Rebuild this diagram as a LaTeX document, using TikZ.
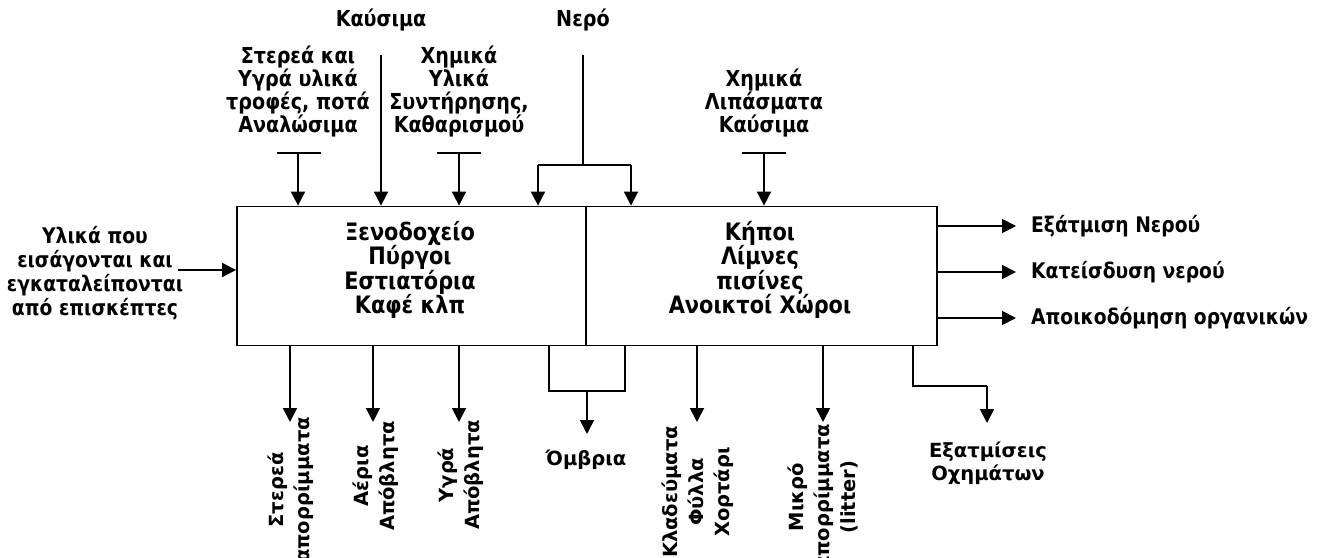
\documentclass[tikz,border=0pt]{standalone}
\usepackage{fontspec}
\setmainfont{DejaVu Sans}
\newfontfamily\tfont[FakeStretch=0.87]{DejaVu Sans}
\newfontfamily\vfont{DejaVu Sans}
\usetikzlibrary{arrows.meta}
\begin{document}
\begin{tikzpicture}[x=1pt,y=-1pt,
  lbl/.style={font=\tfont\bfseries\fontsize{22}{23}\selectfont, align=center, inner sep=0pt},
  rlbl/.style={font=\tfont\bfseries\fontsize{21.5}{23}\selectfont, anchor=west, inner sep=0pt},
  boxtxt/.style={font=\tfont\bfseries\fontsize{24}{24.5}\selectfont, align=center, inner sep=0pt},
  vlbl/.style={font=\vfont\bfseries\fontsize{19.5}{26}\selectfont, align=center, inner sep=0pt},
  blk/.style={draw, line width=1.8pt, inner sep=0pt},
  ar/.style={-{Triangle[length=14pt,width=14pt]}, line width=1.8pt},
  ln/.style={line width=1.8pt}]
\useasboundingbox (0,0) rectangle (1317,557);
% boxes
\node[blk, minimum width=349pt, minimum height=139pt] (lbox) at (411.5,276) {};
\node[blk, minimum width=351pt, minimum height=139pt] (rbox) at (761.5,276) {};
\node[boxtxt] (ltxt) at (410,270) {Ξενοδοχείο\\Πύργοι\\Εστιατόρια\\Καφέ κλπ};
\node[boxtxt] (rtxt) at (760,270) {Κήποι\\Λίμνες\\πισίνες\\Ανοικτοί Χώροι};
% top inputs
\node[lbl] (in1) at (298,91) {Στερεά και\\Υγρά υλικά\\τροφές, ποτά\\Αναλώσιμα};
\coordinate (t1) at (298,153);
\draw[ln] (277,153) -- (321,153);
\draw[ar] (t1) -- (t1 |- lbox.north);
\node[lbl] (in2) at (381,20) {Καύσιμα};
\coordinate (t2) at (381,55);
\draw[ar] (t2) -- (t2 |- lbox.north);
\node[lbl] (in3) at (459,91) {Χημικά\\Υλικά\\Συντήρησης,\\Καθαρισμού};
\coordinate (t3) at (459,153);
\draw[ln] (437,153) -- (481,153);
\draw[ar] (t3) -- (t3 |- lbox.north);
\node[lbl] (in4) at (583,20) {Νερό};
\coordinate (t4) at (583,55);
\coordinate (t4a) at (538,165);
\coordinate (t4b) at (631,165);
\draw[ln] (t4) -- (t4 |- t4a);
\draw[ln] (t4a) -- (t4b);
\draw[ar] (t4a) -- (t4a |- lbox.north);
\draw[ar] (t4b) -- (t4b |- rbox.north);
\node[lbl] (in5) at (764,103) {Χημικά\\Λιπάσματα\\Καύσιμα};
\coordinate (t5) at (764,153);
\draw[ln] (742,153) -- (786,153);
\draw[ar] (t5) -- (t5 |- rbox.north);
% left input
\node[lbl, font=\tfont\bfseries\fontsize{21.5}{24}\selectfont] (in6) at (95,273) {Υλικά που\\εισάγονται και\\εγκαταλείπονται\\από επισκέπτες};
\coordinate (t6) at (178,270);
\draw[ar] (t6) -- (t6 -| lbox.west);
% right outputs
\coordinate (r1) at (1016,226);
\coordinate (r2) at (1016,272);
\coordinate (r3) at (1016,318);
\draw[ar] (r1 -| rbox.east) -- (r1);
\draw[ar] (r2 -| rbox.east) -- (r2);
\draw[ar] (r3 -| rbox.east) -- (r3);
\node[rlbl] (o1) at (1031,226) {Εξάτμιση Νερού};
\node[rlbl] (o2) at (1031,272) {Κατείσδυση νερού};
\node[rlbl] (o3) at (1031,318) {Αποικοδόμηση οργανικών};
% bottom outputs
\coordinate (b1) at (290,422);
\coordinate (b2) at (373,422);
\coordinate (b3) at (459,422);
\draw[ar] (b1 |- lbox.south) -- (b1);
\draw[ar] (b2 |- lbox.south) -- (b2);
\draw[ar] (b3 |- lbox.south) -- (b3);
\node[vlbl, rotate=90] (d1) at (291,490) {Στερεά\\απορρίμματα};
\node[vlbl, rotate=90] (d2) at (376,476) {Αέρια\\Απόβλητα};
\node[vlbl, rotate=90] (d3) at (461,475) {Υγρά\\Απόβλητα};
% ombria
\coordinate (m1) at (549,391);
\coordinate (m2) at (625,391);
\coordinate (m3) at (587,391);
\coordinate (m4) at (587,434);
\draw[ln] (m1 |- lbox.south) -- (m1) -- (m2) -- (m2 |- rbox.south);
\draw[ar] (m3) -- (m4);
\node[vlbl] (d4) at (586,460) {Όμβρια};
% right bottom outputs
\coordinate (b5) at (697,422);
\coordinate (b6) at (823,422);
\draw[ar] (b5 |- rbox.south) -- (b5);
\draw[ar] (b6 |- rbox.south) -- (b6);
\node[vlbl, rotate=90] (d5) at (698,492) {Κλαδεύματα\\Φύλλα\\Χορτάρι};
\node[vlbl, rotate=90] (d6) at (823,497) {Μικρό\\απορρίμματα\\(litter)};
\coordinate (e1) at (913,386);
\coordinate (e2) at (987,386);
\coordinate (e3) at (987,423);
\draw[ln] (e1 |- rbox.south) -- (e1) -- (e2);
\draw[ar] (e2) -- (e3);
\node[vlbl, font=\vfont\bfseries\fontsize{19.5}{23}\selectfont] (d7) at (988,463) {Εξατμίσεις\\Οχημάτων};
\end{tikzpicture}
\end{document}
